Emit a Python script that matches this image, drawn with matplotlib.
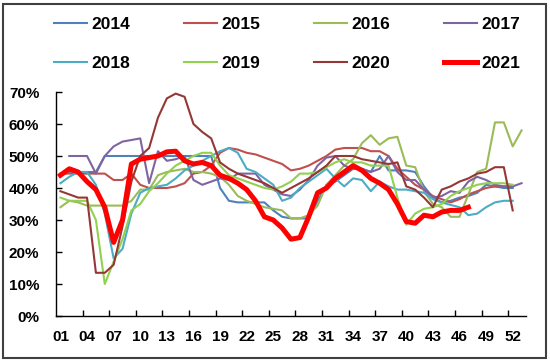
import matplotlib
matplotlib.use("Agg")
import matplotlib.pyplot as plt
from matplotlib.patches import Rectangle
from matplotlib.ticker import FixedLocator, FuncFormatter

plt.rcParams['font.family'] = ['Liberation Sans', 'DejaVu Sans']

# weekly values (%)
y2014 = [44, 45, 45, 45, 45, 50, 50, 50, 50, 50, 50, 50, 50, 50, 50, 50, 50, 50, 40, 36,
         35.5, 35.5, 35.5, 35.5, 33, 31, 30.5, 30.5, 30.5, 36, 41, 42, 44, 46, 46, 45, 50, 45.5, 45.5, 45.5,
         45, 40.5, 37, 35.5, 36, 37, 37.5, 38.5, 41, 40.5, 40, 40]
y2015 = [44.5, 44.5, 44.5, 44.5, 44.5, 44.5, 42.5, 42.5, 44.5, 41, 40, 40, 40, 40.5, 41.5, 44.5, 45, 47, 51, 52.5,
         52, 51, 50.5, 49.5, 48.5, 47.5, 45.5, 46, 47, 48.5, 50, 52, 52.5, 52.5, 52.5, 51.5, 51.5, 50, 46, 43.5,
         41, 39.5, 37.5, 36.5, 35.5, 36.5, 38, 39, 40, 40.5, 40.5, 40.5]
y2016 = [34, 36, 35.5, 34.5, 34.5, 34.5, 34.5, 34.5, 36, 39.5, 39.5, 44, 45, 45.5, 46, 45, 45, 44.5, 43.5, 41,
         37.5, 36, 35, 34, 33.5, 33, 30.5, 30.5, 31.5, 34.5, 41, 44, 47, 49, 54, 56.5, 53.5, 55.5, 56, 47,
         46.5, 39, 35, 34, 31, 31, 38, 45, 46, 60.5, 60.5, 53, 58]
y2017 = [None, 50, 50, 50, 44.5, 50, 53, 54.5, 55, 55.5, 41.5, 51.5, 48.5, 49, 50, 42.5, 41, 42, 43, 42.5,
         44.5, 44.5, 44.5, 41, 39.5, 38, 37.5, 39.5, 42.5, 47, 49.5, 50, 47, 46, 46, 45, 46, 50, 45, 42.5,
         42.5, 39.5, 37, 37.5, 39, 38.5, 42, 43.5, 42.5, 41, 40.5, 40.5, 41.5]
y2018 = [41.5, 43.5, 45, 45, 41, 32, 18, 21, 32, 38.5, 40, 40.5, 41, 43, 45.5, 47, 48.5, 50, 51.5, 52.5,
         51, 46, 45, 43, 41, 36, 37, 40, 42, 44, 46, 43, 40.5, 43, 42.5, 39, 42, 40.5, 39.5, 39.5,
         39, 38.5, 36.5, 35.5, 34.7, 34, 31.5, 32, 34, 35.5, 36, 36]
y2019 = [37, 36, 36, 36, 30, 10, 17, 24, 33, 35, 39, 41.5, 44.5, 47, 48.5, 50, 51, 51, 47, 44,
         43, 42, 41, 40, 39.5, 40.5, 42, 44.5, 44.5, 45, 46.5, 48, 49, 48, 48, 47, 47, 47, 37, 28.5,
         32, 33.5, 34, 35, 37.5, 39, 40, 41, 41.5, 41.5, 41.5, 41]
y2020 = [39, 38, 37, 37, 13.5, 13.5, 16, 28, 42, 50, 52.5, 62, 68, 69.5, 68.5, 60, 57.5, 55.5, 48, 46,
         44.5, 43.5, 42.5, 41.5, 40, 38.5, 40, 41.5, 43, 45, 47, 50, 50, 50, 49, 48.5, 48, 47.5, 48, 40.5,
         39.5, 37, 34, 39.5, 40.5, 42, 43, 44.5, 45, 46.5, 46.5, 33]
y2021 = [44, 46, 45, 42, 39.5, 34, 23, 30, 47.5, 49, 49.5, 50, 51.3, 51.5, 48.5, 47.5, 48, 47, 44, 43,
         41.5, 39.5, 36, 31, 30, 27.5, 24, 24.5, 31, 38.5, 40, 43, 45, 47, 45.5, 43, 41.5, 39.5, 35, 29.5,
         29, 31.5, 31, 32.5, 33, 33, 34]

years = ['2014', '2015', '2016', '2017', '2018', '2019', '2020', '2021']
series = [y2014, y2015, y2016, y2017, y2018, y2019, y2020, y2021]
colors = ['#4F81BD', '#C0504D', '#9BBB59', '#8064A2', '#4BACC6', '#92D050', '#953735', '#FF0000']
week_labels = ['%02d' % w for w in range(1, 53, 3)]

fig = plt.figure(figsize=(5.5, 3.61), dpi=100)
ax = fig.add_axes([56 / 550, 45 / 361, 470 / 550, 224 / 361])

lines = []
for name, vals, c in zip(years, series, colors):
    x = list(range(1, len(vals) + 1))
    v = [float('nan') if a is None else a for a in vals]
    if name == '2021':
        ln, = ax.plot(x, v, color=c, lw=3.6, label=name, zorder=5, solid_joinstyle='round')
    else:
        ln, = ax.plot(x, v, color=c, lw=1.5, label=name)
    lines.append(ln)

ax.set_xlim(0.5, 53.5)
ax.set_ylim(0, 70)
ax.spines['top'].set_visible(False)
ax.spines['right'].set_visible(False)
for s in ['left', 'bottom']:
    ax.spines[s].set_linewidth(1.0)

ax.set_yticks(range(0, 71, 10))
ax.yaxis.set_major_formatter(FuncFormatter(lambda v, p: '%d%%' % v))
ax.tick_params(axis='y', direction='in', length=4, width=1, pad=12, labelsize=11)

ax.xaxis.set_major_locator(FixedLocator(list(range(1, 53, 3))))
ax.set_xticklabels(week_labels)
ax.xaxis.set_minor_locator(FixedLocator([3.5 + 3 * k for k in range(17)]))
ax.tick_params(axis='x', which='major', length=0, pad=10, labelsize=11)
ax.tick_params(axis='x', which='minor', direction='in', length=4, width=1)
for t in ax.get_xticklabels() + ax.get_yticklabels():
    t.set_fontweight('bold')

# legend fills column by column, so interleave to get two rows of four
order = [0, 4, 1, 5, 2, 6, 3, 7]
fig.legend([lines[i] for i in order], [years[i] for i in order],
           loc='upper left', bbox_to_anchor=(54 / 550, 1 - 17 / 361), ncol=4, frameon=False,
           prop={'weight': 'bold', 'size': 12.5}, handlelength=1.9, handletextpad=0.25,
           columnspacing=3.1, labelspacing=1.38, borderpad=0, borderaxespad=0)

fig.add_artist(Rectangle((3 / 550, 3 / 361), 543 / 550, 354 / 361, transform=fig.transFigure,
                         fill=False, edgecolor='#404040', lw=1.5))

fig.savefig('out.png', dpi=100)
